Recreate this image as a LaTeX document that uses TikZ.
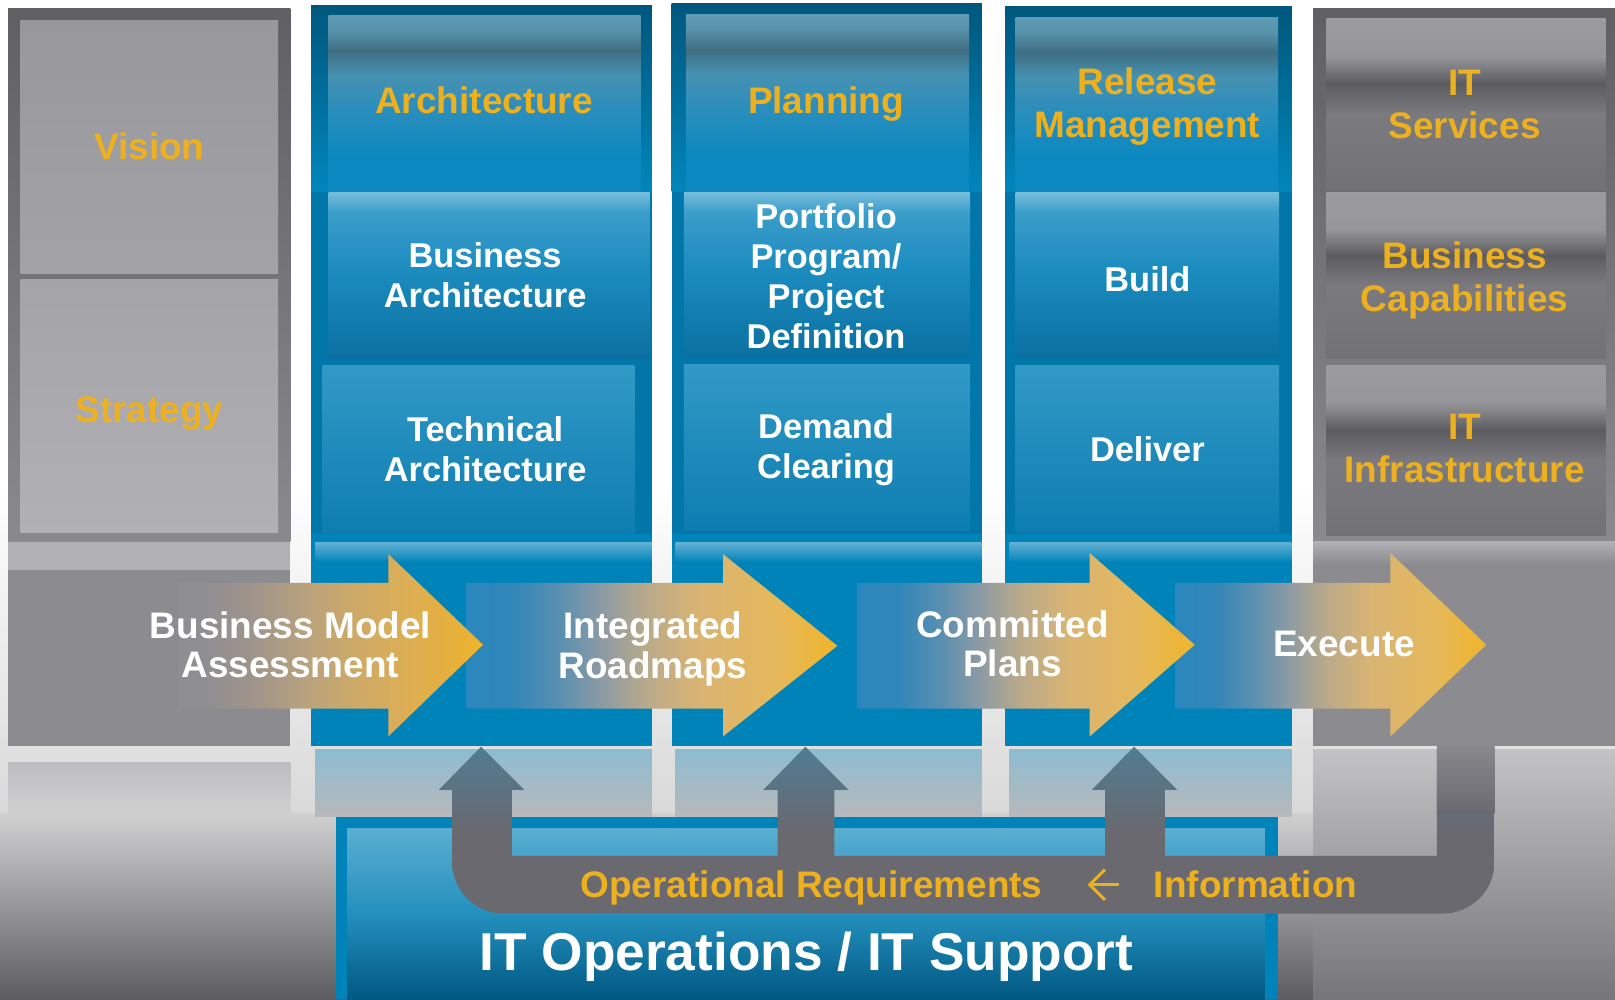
\documentclass[tikz,border=0pt]{standalone}
\usepackage{fontspec}
\setmainfont{Liberation Sans}
\usetikzlibrary{arrows.meta}

\definecolor{tealblue}{HTML}{0083B8}
\definecolor{deepblue}{HTML}{0076A9}
\definecolor{goldtxt}{HTML}{EDB120}
\definecolor{slate}{HTML}{69696F}
\definecolor{slateTop}{HTML}{4F7C93}
\definecolor{barTop}{HTML}{88888D}
\definecolor{floorA}{HTML}{D9D9D9}
\definecolor{floorB}{HTML}{D0D0D1}
\definecolor{floorC}{HTML}{5D5D61}
\definecolor{frameTop}{HTML}{605F64}
\definecolor{frameBot}{HTML}{8A898E}
\definecolor{visTop}{HTML}{98979C}
\definecolor{visBot}{HTML}{A3A2A7}
\definecolor{strTop}{HTML}{A4A3A8}
\definecolor{strBot}{HTML}{B1B0B4}
\definecolor{rimGray}{HTML}{B1B0B5}
\definecolor{bandGray}{HTML}{8B8B90}
\definecolor{capTop}{HTML}{00577D}
\definecolor{capBot}{HTML}{0086BB}
\definecolor{rimBlue}{HTML}{5FB0D3}
\definecolor{glassBlue}{HTML}{8DBCD0}
\definecolor{glassGray}{HTML}{B8B9BC}
\definecolor{glassL1}{HTML}{BDBCC0}
\definecolor{glassL2}{HTML}{D0D0D1}
\definecolor{glassR1}{HTML}{C3C3C5}
\definecolor{glassR2}{HTML}{76767A}
\definecolor{lowTop}{HTML}{3199C6}
\definecolor{lowBot}{HTML}{0D7DB1}
\definecolor{opsTop}{HTML}{5AAED2}
\definecolor{opsMid}{HTML}{2490BD}
\definecolor{opsBot}{HTML}{005882}

% header tiles: pale rim, dark seam, clean blue
\definecolor{hdA}{HTML}{5F9BB4}
\definecolor{hdB}{HTML}{5893AC}
\definecolor{hdC}{HTML}{3F6E82}
\definecolor{hdD}{HTML}{4691B1}
\definecolor{hdE}{HTML}{2A8EBD}
\definecolor{hdF}{HTML}{0B88C0}
\pgfdeclareverticalshading{headtile}{100bp}{color(0bp)=(hdF); color(25bp)=(hdF);
  color(35bp)=(hdF); color(48bp)=(hdE); color(58bp)=(hdD); color(65bp)=(hdC);
  color(71bp)=(hdB); color(75bp)=(hdA); color(100bp)=(hdA)}

\definecolor{upA}{HTML}{74BCDB}
\definecolor{upB}{HTML}{3B9DCA}
\definecolor{upC}{HTML}{1C8CBF}
\definecolor{upD}{HTML}{0B70A1}
\pgfdeclareverticalshading{uppertile}{100bp}{color(0bp)=(upD); color(25bp)=(upD);
  color(52bp)=(upC); color(69bp)=(upB); color(75bp)=(upA); color(100bp)=(upA)}

\definecolor{gtA}{HTML}{9C9BA0}
\definecolor{gtB}{HTML}{96959A}
\definecolor{gtC}{HTML}{5C5C60}
\definecolor{gtD}{HTML}{7B7A7F}
\definecolor{gtE}{HTML}{717176}
\pgfdeclareverticalshading{graytile}{100bp}{color(0bp)=(gtE); color(25bp)=(gtE);
  color(47bp)=(gtD); color(56bp)=(gtC); color(64bp)=(gtB); color(75bp)=(gtA);
  color(100bp)=(gtA)}

% flow arrows, blue or gray tail into gold head
\definecolor{fb1}{HTML}{2A87BD}
\definecolor{fb2}{HTML}{3086B8}
\definecolor{fb3}{HTML}{5A8FB0}
\definecolor{fb4}{HTML}{8F9BA3}
\definecolor{fb5}{HTML}{B8A98B}
\definecolor{fb6}{HTML}{D8B474}
\definecolor{fb7}{HTML}{E6B85A}
\definecolor{fb8}{HTML}{EFB42A}
\pgfdeclarehorizontalshading{flowblue}{100bp}{color(0bp)=(fb1); color(25bp)=(fb1);
  color(31bp)=(fb2); color(37.5bp)=(fb3); color(43.5bp)=(fb4); color(49bp)=(fb5);
  color(56bp)=(fb6); color(67bp)=(fb7); color(75bp)=(fb8); color(100bp)=(fb8)}
\definecolor{fg1}{HTML}{8E8E93}
\definecolor{fg2}{HTML}{A0948A}
\definecolor{fg3}{HTML}{B9A27D}
\definecolor{fg4}{HTML}{CFAA66}
\definecolor{fg5}{HTML}{DCAE55}
\definecolor{fg6}{HTML}{E8B038}
\pgfdeclarehorizontalshading{flowgray}{100bp}{color(0bp)=(fg1); color(25bp)=(fg1);
  color(29bp)=(fg1); color(37.5bp)=(fg2); color(46bp)=(fg3); color(54.5bp)=(fg4);
  color(62.5bp)=(fg5); color(71bp)=(fg6); color(75bp)=(fb8); color(100bp)=(fb8)}

\tikzset{
  hdr/.style={text=goldtxt, align=center, inner sep=0pt,
    font=\fontsize{10.2}{11.9}\selectfont\bfseries},
  cell/.style={text=white, align=center, inner sep=0pt,
    font=\fontsize{9.5}{11}\selectfont\bfseries},
  flowtxt/.style={cell, font=\fontsize{10.2}{11}\selectfont\bfseries},
  bigcell/.style={cell, font=\fontsize{14.7}{16}\selectfont\bfseries},
  backarrow/.style={draw=goldtxt, line width=0.85pt,
    -{Straight Barb[length=4.2pt, width=8.4pt]}, shorten <=0.33cm, shorten >=0.43cm}
}

\begin{document}
\begin{tikzpicture}[x=0.01cm,y=-0.01cm]
  \useasboundingbox (0,0) rectangle (1568,970);
  \fill[white] (0,0) rectangle (1568,970);
  \shade[top color=white, bottom color=floorA] (0,470) rectangle (1568,790);
  \shade[top color=floorB, bottom color=floorC] (0,790) rectangle (1568,970);

  % vision / strategy
  \shade[top color=frameTop, bottom color=frameBot] (8,8) rectangle (282,526);
  \shade[top color=visTop, bottom color=visBot] (20,20) rectangle (270,266);
  \shade[top color=strTop, bottom color=strBot] (20,271) rectangle (270,517);
  \fill[rimGray] (8,526) rectangle (282,553);
  \fill[bandGray] (8,553) rectangle (282,724);
  \shade[top color=glassL1, bottom color=glassL2] (8,740) rectangle (282,790);

  % blue columns
  \foreach \xa/\xb/\yt in {302/633/5, 652/953/3, 976/1254/6}{
    \fill[deepblue] (\xa,\yt) rectangle (\xb,724);
    \shade[top color=capTop, bottom color=capBot] (\xa,\yt) rectangle (\xb,186);
    \fill[tealblue] (\xa,518) rectangle (\xb,724);
    \shade[top color=rimBlue, bottom color=tealblue] (\xa+4,527) rectangle (\xb,546);
    \shade[top color=glassBlue, bottom color=glassGray] (\xa+4,728) rectangle (\xb,793);
  }
  \shade[shading=headtile] (319,15) rectangle (622,186);
  \shade[shading=headtile] (666,14) rectangle (941,186);
  \shade[shading=headtile] (986,17) rectangle (1241,186);
  \shade[shading=uppertile] (319,187) rectangle (631,348);
  \shade[shading=uppertile] (664,187) rectangle (942,347);
  \shade[shading=uppertile] (986,187) rectangle (1242,347);
  \shade[top color=lowTop, bottom color=lowBot] (313,355) rectangle (616,518);
  \shade[top color=lowTop, bottom color=lowBot] (664,354) rectangle (942,515);
  \shade[top color=lowTop, bottom color=lowBot] (986,355) rectangle (1242,517);

  % gray column on the right
  \shade[top color=frameTop, bottom color=frameBot] (1275,8) rectangle (1568,526);
  \shade[shading=graytile] (1288,18) rectangle (1559,184);
  \shade[shading=graytile] (1288,187) rectangle (1559,348);
  \shade[shading=graytile] (1288,355) rectangle (1559,520);
  \shade[top color=rimGray, bottom color=bandGray] (1275,526) rectangle (1568,548);
  \fill[bandGray] (1275,548) rectangle (1568,724);
  \shade[top color=glassR1, bottom color=glassR2] (1275,728) rectangle (1568,970);

  % operations base
  \fill[tealblue] (326,793) rectangle (1241,970);
  \shade[top color=opsTop, bottom color=opsBot, middle color=opsMid] (337,804) rectangle (1228,970);

  % flow arrows, last one first so each tip sits on the next tail
  \shade[shading=flowblue] (1141,566) -- (1350,566) -- (1350,537) -- (1443,626) -- (1350,715) -- (1350,688) -- (1141,688) -- cycle;
  \shade[shading=flowblue] (832,566) -- (1058,566) -- (1058,537) -- (1160,626) -- (1058,715) -- (1058,688) -- (832,688) -- cycle;
  \shade[shading=flowblue] (453,566) -- (702,566) -- (702,538) -- (813,627) -- (702,715) -- (702,688) -- (453,688) -- cycle;
  \shade[shading=flowgray] (173,566) -- (377,566) -- (377,538) -- (469,626) -- (377,715) -- (377,688) -- (173,688) -- cycle;

  % feedback loop
  \shade[top color=slateTop, bottom color=slate, middle color=slate]
    (467,725) -- (509,767) -- (497,767) -- (497,831) -- (755,831) -- (755,767) -- (741,767)
    -- (782,725) -- (824,767) -- (810,767) -- (810,831) -- (1073,831) -- (1073,767) -- (1060,767)
    -- (1101,725) -- (1143,767) -- (1131,767) -- (1131,831) -- (1395,831) -- (1395,725)
    -- (1451,725) -- (1451,800) [rounded corners=0.5cm] -- (1451,887) -- (439,887) -- (439,800)
    [sharp corners] -- (439,767) -- (426,767) -- cycle;
  \shade[top color=barTop, bottom color=slate] (1395,725) rectangle (1451,790);

  \node[hdr] (vision) at (145,142) {Vision};
  \node[hdr] (strategy) at (145,401) {Strategy};
  \node[hdr] (arch) at (470,97) {Architecture};
  \node[cell] (busarch) at (471,267) {Business\\Architecture};
  \node[cell] (techarch) at (471,436) {Technical\\Architecture};
  \node[hdr] (plan) at (802,101) {Planning};
  \node[cell] (portfolio) at (802,268) {Portfolio\\Program/\\Project\\Definition};
  \node[cell] (demand) at (802,437) {Demand\\Clearing};
  \node[hdr] (release) at (1114,103) {Release\\Management};
  \node[cell] (build) at (1114,271) {Build};
  \node[cell] (deliver) at (1114,436) {Deliver};
  \node[hdr] (itserv) at (1422,101) {IT\\Services};
  \node[hdr] (buscap) at (1422,272) {Business\\Capabilities};
  \node[hdr] (itinfra) at (1422,435) {IT\\Infrastructure};

  \node[flowtxt] (bma) at (282,626) {Business Model\\Assessment};
  \node[flowtxt] (roadmap) at (634,630) {Integrated\\Roadmaps};
  \node[flowtxt] (committed) at (983,625) {Committed\\Plans};
  \node[flowtxt] (execute) at (1305,625) {Execute};

  \node[hdr] (opreq) at (788,862) {Operational Requirements};
  \node[hdr] (info) at (1219,859) {Information};
  \draw[backarrow] (info.west) -- (info.west -| opreq.east);
  \node[bigcell] (itops) at (783,929) {IT Operations / IT Support};
\end{tikzpicture}
\end{document}
